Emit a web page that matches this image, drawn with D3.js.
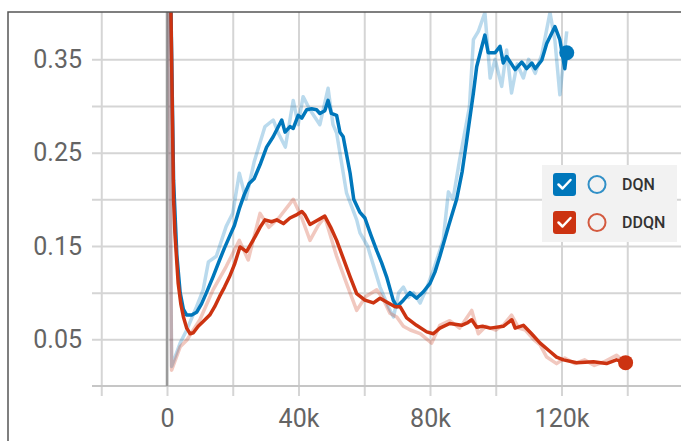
<!DOCTYPE html>
<html>
<head>
<meta charset="utf-8">
<script src="https://cdn.jsdelivr.net/npm/d3@7"></script>
<style>
  html, body { margin: 0; padding: 0; background: #fff; }
  svg { display: block; font-family: Roboto, "Noto Sans", sans-serif; }
</style>
</head>
<body>
<svg id="chart" width="681" height="441"></svg>
<script>
// step (k) and value pairs
var dqnSteps = [0.5, 1, 2, 3, 4, 5, 6, 7.5, 9, 10.5, 12, 14, 16, 17.5, 19, 20.5, 22, 23.5, 25, 26.5, 28.3, 30.3, 32.3, 34.9, 35.9, 37.4, 38.4, 39.9, 41, 42.5, 44, 45.5, 46.5, 48, 49, 50, 51.6, 52.6, 53.6, 55.7, 56.8, 58.7, 60.2, 62, 63.8, 65.3, 66.8, 68.8, 69.9, 71.9, 73.9, 75.9, 78, 80, 81.5, 83, 85.6, 88.1, 89.8, 91.2, 93.2, 94.2, 95.5, 96.7, 97.7, 99.8, 101.3, 102.3, 103.3, 105.9, 107.9, 109.4, 111, 112, 114, 115.5, 118, 119.5, 121, 121.6];
var dqnSmooth = [0.62, 0.45, 0.22, 0.14, 0.1, 0.082, 0.076, 0.076, 0.079, 0.088, 0.1, 0.117, 0.135, 0.148, 0.16, 0.172, 0.19, 0.205, 0.217, 0.222, 0.237, 0.256, 0.267, 0.285, 0.272, 0.278, 0.276, 0.29, 0.287, 0.296, 0.297, 0.296, 0.292, 0.295, 0.306, 0.292, 0.29, 0.272, 0.267, 0.228, 0.2, 0.186, 0.18, 0.162, 0.145, 0.132, 0.117, 0.092, 0.085, 0.092, 0.1, 0.094, 0.101, 0.11, 0.122, 0.139, 0.171, 0.2, 0.23, 0.264, 0.314, 0.342, 0.36, 0.376, 0.357, 0.357, 0.364, 0.346, 0.353, 0.339, 0.347, 0.34, 0.346, 0.34, 0.349, 0.367, 0.385, 0.371, 0.34, 0.357];
var dqnRawSteps = [0, 1.4, 4, 6, 9, 11, 12.6, 15, 18, 20, 22, 24, 26.5, 29.8, 32.3, 34, 36, 38.4, 39.9, 41.4, 43.5, 46.5, 49, 50.5, 51.6, 54.6, 57.7, 58.7, 61, 64.8, 67.3, 68.9, 70.5, 71.9, 73.5, 75, 77, 79, 81, 84, 85.6, 87, 89, 92, 93.2, 94.7, 96.7, 98.3, 99.8, 101.8, 103.3, 104.8, 106.5, 108.4, 110, 112, 114, 116.5, 118, 119.5, 121.6];
var dqnRaw = [0.7, 0.021, 0.046, 0.06, 0.085, 0.103, 0.133, 0.139, 0.171, 0.185, 0.228, 0.2, 0.24, 0.278, 0.285, 0.27, 0.256, 0.306, 0.28, 0.31, 0.296, 0.28, 0.319, 0.28, 0.271, 0.207, 0.178, 0.164, 0.15, 0.106, 0.085, 0.074, 0.1, 0.106, 0.095, 0.1, 0.089, 0.105, 0.124, 0.156, 0.208, 0.2, 0.242, 0.299, 0.371, 0.38, 0.4, 0.33, 0.35, 0.321, 0.36, 0.314, 0.345, 0.33, 0.35, 0.335, 0.355, 0.4, 0.37, 0.312, 0.38];

var ddqnSteps = [0.5, 1, 2, 2.4, 3.4, 4.2, 5, 6, 7, 8, 9.5, 11, 13, 14.5, 16, 17.5, 19, 20.5, 22.2, 24.2, 25.5, 26.8, 28.3, 29.8, 31.8, 33.4, 35.4, 37.4, 39.2, 41, 42, 43.5, 45.5, 48, 49.8, 51.6, 53.6, 55.7, 57.7, 60.2, 62.8, 64.8, 66.8, 69.4, 70.9, 72.9, 75.9, 79, 81, 83, 86, 89.6, 91.5, 92.7, 94.2, 96, 98.3, 102.3, 104.9, 105.9, 108.4, 110.9, 113.5, 116.5, 118.5, 120.6, 124.6, 129.7, 133.7, 136.7, 139.5];
var ddqnSmooth = [0.62, 0.45, 0.2, 0.164, 0.11, 0.088, 0.074, 0.062, 0.056, 0.057, 0.064, 0.069, 0.076, 0.085, 0.096, 0.106, 0.117, 0.13, 0.149, 0.144, 0.152, 0.16, 0.17, 0.178, 0.176, 0.178, 0.174, 0.18, 0.183, 0.187, 0.183, 0.173, 0.177, 0.182, 0.17, 0.156, 0.137, 0.117, 0.099, 0.092, 0.089, 0.094, 0.09, 0.085, 0.085, 0.073, 0.065, 0.058, 0.056, 0.062, 0.067, 0.065, 0.068, 0.071, 0.063, 0.064, 0.062, 0.064, 0.071, 0.062, 0.065, 0.056, 0.046, 0.037, 0.031, 0.028, 0.025, 0.026, 0.024, 0.028, 0.025];
var ddqnRawSteps = [0, 1.4, 4, 6, 10, 14, 18, 22, 24.7, 28.3, 31, 34, 38.4, 41, 43.5, 46, 48, 51.6, 54.6, 57.7, 60.5, 63.8, 65.5, 67.8, 69.9, 71.9, 74, 77, 80.5, 83, 86, 89, 92.7, 94.7, 97, 100, 102.5, 104.8, 107, 109, 111.5, 113.5, 115.5, 118.5, 121, 124, 127, 130, 133, 136.7, 139.5];
var ddqnRaw = [0.7, 0.017, 0.042, 0.049, 0.071, 0.103, 0.128, 0.156, 0.135, 0.185, 0.17, 0.18, 0.2, 0.18, 0.156, 0.172, 0.181, 0.139, 0.11, 0.081, 0.096, 0.103, 0.095, 0.078, 0.074, 0.064, 0.06, 0.056, 0.046, 0.065, 0.07, 0.062, 0.081, 0.056, 0.064, 0.06, 0.066, 0.076, 0.062, 0.06, 0.05, 0.044, 0.031, 0.024, 0.03, 0.024, 0.028, 0.022, 0.026, 0.033, 0.025];

var yGridVals = [0.05, 0.1, 0.15, 0.2, 0.25, 0.3, 0.35];
var yLabelVals = [0.05, 0.15, 0.25, 0.35];
var xGridVals = [-20000, 0, 20000, 40000, 60000, 80000, 100000, 120000, 140000];
var xLabelVals = [0, 40000, 80000, 120000];
var seriesNames = ["DQN", "DDQN"];
var seriesColors = ["#0077bb", "#cc3311"];

var svg = d3.select("#chart");

//scales
var x = d3.scaleLinear().domain([-20000, 160000]).range([101.25, 693]);
var y = d3.scaleLinear().domain([0, 0.4]).range([386, 12.67]);

var textColor = "#646464";
var gridColor = "#d5d5d5";

//horizontal grid
svg.append("g")
    .attr("transform", "translate(681,0)")
    .call(d3.axisLeft(y).tickValues(yGridVals).tickSize(681 - 92).tickFormat(""))
    .call(g => g.select(".domain").remove())
    .selectAll("line").attr("stroke", gridColor).attr("stroke-width", 2);

//vertical grid
svg.append("g")
    .attr("transform", "translate(0,396)")
    .call(d3.axisTop(x).tickValues(xGridVals).tickSize(396 - 12).tickFormat(""))
    .call(g => g.select(".domain").remove())
    .selectAll("line").attr("stroke", gridColor).attr("stroke-width", 2);

//x axis line
svg.append("line")
    .attr("x1", 92).attr("x2", 681)
    .attr("y1", y(0)).attr("y2", y(0))
    .attr("stroke", "#c6c6c6").attr("stroke-width", 2);

//zero line
svg.append("line")
    .attr("x1", x(0)).attr("x2", x(0))
    .attr("y1", 12).attr("y2", y(0))
    .attr("stroke", "#9a9a9a").attr("stroke-width", 2.5);

//labels
svg.append("g")
    .attr("transform", "translate(82,0)")
    .call(d3.axisLeft(y).tickValues(yLabelVals).tickSize(0).tickPadding(0).tickFormat(d3.format(".2f")))
    .call(g => g.select(".domain").remove())
    .selectAll("text")
    .attr("fill", textColor)
    .style("font-size", "25px")
    .style("font-family", "Roboto, sans-serif");

svg.append("g")
    .attr("transform", "translate(0,409)")
    .call(d3.axisBottom(x).tickValues(xLabelVals).tickSize(0).tickPadding(0)
        .tickFormat(d => d === 0 ? "0" : d3.format("~s")(d)))
    .call(g => g.select(".domain").remove())
    .selectAll("text")
    .attr("fill", textColor)
    .style("font-size", "25px")
    .style("font-family", "Roboto, sans-serif");

//lines
svg.append("clipPath").attr("id", "plotClip")
    .append("rect")
    .attr("x", x(-20000)).attr("y", 12)
    .attr("width", 681 - x(-20000)).attr("height", y(0) - 12);

var plot = svg.append("g").attr("clip-path", "url(#plotClip)");

var line = d3.line()
    .x(d => x(d[0] * 1000))
    .y(d => y(d[1]));

var series = [
  { steps: dqnSteps, smooth: dqnSmooth, rawSteps: dqnRawSteps, raw: dqnRaw },
  { steps: ddqnSteps, smooth: ddqnSmooth, rawSteps: ddqnRawSteps, raw: ddqnRaw }
];

series.forEach((s, i) => {
  plot.append("path")
      .datum(d3.zip(s.rawSteps, s.raw))
      .attr("fill", "none")
      .attr("stroke", seriesColors[i])
      .attr("stroke-opacity", 0.27)
      .attr("stroke-width", 3.5)
      .attr("stroke-linejoin", "round")
      .attr("d", line);
});

series.forEach((s, i) => {
  var pts = d3.zip(s.steps, s.smooth);
  plot.append("path")
      .datum(pts)
      .attr("fill", "none")
      .attr("stroke", seriesColors[i])
      .attr("stroke-width", 3.5)
      .attr("stroke-linejoin", "round")
      .attr("d", line);
  var last = pts[pts.length - 1];
  plot.append("circle")
      .attr("cx", x(last[0] * 1000))
      .attr("cy", y(last[1]))
      .attr("r", 7.5)
      .attr("fill", seriesColors[i]);
});

//frame
svg.append("path")
    .attr("d", "M8,441V12H681")
    .attr("fill", "none")
    .attr("stroke", "#555")
    .attr("stroke-width", 1.5);

//legend
var legend = svg.append("g").attr("transform", "translate(542,165)");
legend.append("rect")
    .attr("width", 135).attr("height", 77)
    .attr("fill", "#f2f2f2");

seriesNames.forEach((name, i) => {
  var row = legend.append("g").attr("transform", "translate(0," + (19 + i * 38) + ")");
  row.append("rect")
      .attr("x", 11).attr("y", -11)
      .attr("width", 23).attr("height", 23)
      .attr("rx", 3)
      .attr("fill", seriesColors[i]);
  row.append("path")
      .attr("d", "M16.5,0.5 L20.5,4.5 L28.5,-4")
      .attr("fill", "none")
      .attr("stroke", "#fff")
      .attr("stroke-width", 2.5)
      .attr("stroke-linecap", "round")
      .attr("stroke-linejoin", "round");
  row.append("circle")
      .attr("cx", 55).attr("cy", 0.5)
      .attr("r", 8.5)
      .attr("fill", "none")
      .attr("stroke", seriesColors[i])
      .attr("stroke-opacity", 0.8)
      .attr("stroke-width", 2);
  row.append("text")
      .attr("x", 80).attr("y", 0.5)
      .attr("dy", "0.35em")
      .attr("fill", "#333")
      .style("font-size", "16px")
      .style("font-weight", 500)
      .text(name);
});
</script>
</body>
</html>
